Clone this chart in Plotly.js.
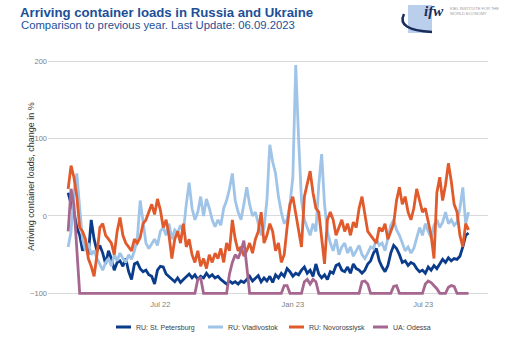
<!DOCTYPE html>
<html>
<head>
<meta charset="utf-8">
<script src="https://cdn.plot.ly/plotly-3.0.1.min.js"></script>
<style>html,body{margin:0;padding:0;background:#fff;}#chart{width:510px;height:340px;}</style>
</head>
<body>
<div id="chart"></div>
<script>
// Dates (every 4 days)
const dates = [
'2022-02-23','2022-02-27','2022-03-03','2022-03-07','2022-03-11','2022-03-15','2022-03-19','2022-03-23','2022-03-27','2022-03-31',
'2022-04-04','2022-04-08','2022-04-12','2022-04-16','2022-04-20','2022-04-24','2022-04-28','2022-05-02','2022-05-06','2022-05-10',
'2022-05-14','2022-05-18','2022-05-22','2022-05-26','2022-05-30','2022-06-03','2022-06-07','2022-06-11','2022-06-15','2022-06-19',
'2022-06-23','2022-06-27','2022-07-01','2022-07-05','2022-07-09','2022-07-13','2022-07-17','2022-07-21','2022-07-25','2022-07-29',
'2022-08-02','2022-08-06','2022-08-10','2022-08-14','2022-08-18','2022-08-22','2022-08-26','2022-08-30','2022-09-03','2022-09-07',
'2022-09-11','2022-09-15','2022-09-19','2022-09-23','2022-09-27','2022-10-01','2022-10-05','2022-10-09','2022-10-13','2022-10-17',
'2022-10-21','2022-10-25','2022-10-29','2022-11-02','2022-11-06','2022-11-10','2022-11-14','2022-11-18','2022-11-22','2022-11-26',
'2022-11-30','2022-12-04','2022-12-08','2022-12-12','2022-12-16','2022-12-20','2022-12-24','2022-12-28','2023-01-01','2023-01-05',
'2023-01-09','2023-01-13','2023-01-17','2023-01-21','2023-01-25','2023-01-29','2023-02-02','2023-02-06','2023-02-10','2023-02-14',
'2023-02-18','2023-02-22','2023-02-26','2023-03-02','2023-03-06','2023-03-10','2023-03-14','2023-03-18','2023-03-22','2023-03-26',
'2023-03-30','2023-04-03','2023-04-07','2023-04-11','2023-04-15','2023-04-19','2023-04-23','2023-04-27','2023-05-01','2023-05-05',
'2023-05-09','2023-05-13','2023-05-17','2023-05-21','2023-05-25','2023-05-29','2023-06-02','2023-06-06','2023-06-10','2023-06-14',
'2023-06-18','2023-06-22','2023-06-26','2023-06-30','2023-07-04','2023-07-08','2023-07-12','2023-07-16','2023-07-20','2023-07-24',
'2023-07-28','2023-08-01','2023-08-05','2023-08-09','2023-08-13','2023-08-17','2023-08-21','2023-08-25','2023-08-29','2023-09-02'
];

const stPetersburg = [
30,15,5,-15,-25,-45,-35,-50,-5,-30,
-45,-38,-48,-62,-45,-55,-70,-60,-58,-65,
-55,-72,-82,-62,-60,-68,-72,-70,-76,-78,
-88,-70,-65,-66,-75,-78,-82,-85,-80,-86,
-82,-78,-75,-80,-76,-82,-78,-80,-74,-79,
-76,-80,-78,-82,-85,-88,-84,-87,-85,-88,
-84,-86,-82,-78,-84,-80,-77,-85,-80,-84,
-78,-86,-76,-80,-74,-78,-68,-72,-78,-74,
-76,-70,-66,-74,-70,-78,-62,-75,-80,-76,
-82,-72,-74,-64,-62,-70,-72,-66,-74,-62,
-68,-70,-74,-70,-62,-58,-48,-42,-58,-66,
-72,-64,-48,-38,-42,-50,-60,-58,-64,-60,
-62,-68,-72,-70,-74,-66,-70,-64,-68,-62,
-56,-60,-54,-58,-55,-56,-52,-40,-25,-22
];

const vladivostok = [
-40,-20,30,55,10,-30,-45,-35,-50,-45,
-55,-62,-70,-60,-55,-65,-50,-58,-48,-55,
-60,-50,-56,-45,-30,20,-10,-35,-42,-35,
-30,-38,-20,-15,-25,-10,-30,-18,-22,-12,
-20,15,43,10,-5,5,25,0,22,10,
-5,-14,-5,-12,10,20,35,55,20,5,
-5,15,37,15,0,5,-10,-25,-15,20,
92,70,55,25,5,-10,-5,15,50,195,
100,20,-5,-15,-25,-10,-20,40,80,15,
-20,-35,-45,-30,-50,-40,-35,-48,-40,-52,
-45,-38,-50,-55,-48,-40,-42,-30,-38,-35,
-45,-28,-12,-5,-18,-25,-35,-45,-40,-48,
-42,-30,-15,-25,-10,-20,-28,-12,-5,-15,
-8,5,-10,-5,-12,-8,10,37,-10,5
];

const novorossiysk = [
35,65,50,25,-15,-20,-30,-55,-65,-78,
-50,-15,-10,-25,-30,-35,-50,-20,-2,-25,
-35,-40,-45,-30,-35,-28,-10,-5,5,15,
2,22,8,-15,-5,-25,-55,-30,-20,-35,
-10,-40,-30,-50,-60,-45,-65,-55,-68,-50,
-60,-48,-55,-42,-60,-35,-45,-5,-30,-45,
-40,-52,-45,-35,-48,-30,-20,5,-35,-25,
-10,-20,-45,-35,-60,-50,-15,15,25,5,
-20,-40,25,40,58,30,10,5,-30,-62,
-5,5,-5,-25,-15,-5,-20,-10,-25,-8,
-15,10,25,5,-20,-25,-30,-35,-15,-20,
-10,-30,-20,-10,20,37,15,25,5,-5,
10,35,20,5,10,-10,-25,-55,30,50,
20,40,68,45,15,5,-25,-40,-10,-18
];

const odessa = [
-20,35,15,-40,-100,-100,-100,-100,-100,-100,
-100,-100,-100,-100,-100,-100,-100,-100,-100,-100,
-100,-100,-100,-100,-100,-100,-100,-100,-100,-100,
-100,-100,-100,-100,-100,-100,-100,-100,-100,-100,
-100,-100,-100,-100,-100,-82,-80,-100,-100,-100,
-100,-100,-100,-100,-100,-100,-75,-60,-50,-55,
-45,-32,-65,-100,-100,-100,-100,-100,-100,-100,
-100,-100,-100,-100,-100,-90,-90,-100,-100,-100,
-100,-100,-85,-82,-88,-82,-85,-100,-100,-100,
-100,-100,-100,-100,-100,-100,-100,-100,-100,-100,
-100,-100,-85,-84,-88,-100,-100,-100,-100,-100,
-100,-100,-100,-91,-90,-100,-100,-100,-100,-100,
-100,-100,-100,-100,-88,-84,-86,-90,-94,-100,
-100,-100,-92,-90,-91,-100,-100,-100,-100,-100
];

const seriesNames = ['RU: St. Petersburg','RU: Vladivostok','RU: Novorossiysk','UA: Odessa'];
const seriesColors = ['#0b3c8c','#9fc4e8','#e05a2b','#a5678f'];
const seriesValues = [stPetersburg, vladivostok, novorossiysk, odessa];

const tickDates = ['2022-07-01','2023-01-01','2023-07-01'];
const tickLabels = ['Jul 22','Jan 23','Jul 23'];
const yTicks = [-100, 0, 100, 200];

const traces = seriesValues.map((vals, k) => ({
  type: 'scatter', mode: 'lines',
  x: dates, y: vals, name: seriesNames[k],
  line: {color: seriesColors[k], width: 2.8},
  hoverinfo: 'skip'
}));

// pixel -> paper helpers for decorations
const L = 48, R = 22, T = 55, B = 42, W = 510, H = 340;
const px = x => (x - L) / (W - L - R);
const py = y => (H - B - y) / (H - T - B);

// legend sample line starts in the reference (pixels)
const legendLineStarts = [115, 207, 288, 372];

const layout = {
  width: W, height: H,
  margin: {l: L, r: R, t: T, b: B, autoexpand: false},
  paper_bgcolor: '#ffffff', plot_bgcolor: '#ffffff',
  font: {family: 'Liberation Sans, Arial, sans-serif', color: '#404040', size: 8},
  title: {
    text: '<b>Arriving container loads in Russia and Ukraine</b>',
    font: {family: 'Liberation Sans, Arial, sans-serif', size: 13.2, color: '#1d4f97'},
    x: 20 / W, xref: 'container', xanchor: 'left',
    y: 1 - 12 / H, yref: 'container', yanchor: 'middle'
  },
  showlegend: true,
  legend: {
    orientation: 'h', xref: 'container', yref: 'container',
    x: 96 / W, xanchor: 'left', y: 1 - 327 / H, yanchor: 'middle',
    font: {size: 7, color: '#404040'}, itemwidth: 30, traceorder: 'normal',
    bgcolor: 'rgba(0,0,0,0)'
  },
  xaxis: {
    type: 'date', range: ['2022-01-26', '2023-09-29'],
    tickmode: 'array', tickvals: tickDates, ticktext: tickLabels,
    showgrid: false, zeroline: false, showline: false, ticks: '',
    tickfont: {size: 7.5, color: '#808080'}, fixedrange: true
  },
  yaxis: {
    range: [-106, 208], tickmode: 'array', tickvals: yTicks,
    showgrid: true, gridcolor: '#d9d9d9', gridwidth: 1,
    zeroline: false, showline: false, ticks: '',
    tickfont: {size: 7.5, color: '#808080'},
    title: {text: 'Arriving container loads, change in %', font: {size: 9, color: '#333333'}, standoff: 2},
    fixedrange: true
  },
  annotations: [
    {text: 'Comparison to previous year. Last Update: 06.09.2023', xref: 'paper', yref: 'paper',
     x: px(19), y: py(25), xanchor: 'left', yanchor: 'middle', showarrow: false,
     font: {family: 'Liberation Sans, Arial, sans-serif', size: 11.3, color: '#1d4f97'}},
    {text: '<b><i>ifw</i></b>', xref: 'paper', yref: 'paper', x: px(434), y: py(11),
     xanchor: 'center', yanchor: 'middle', showarrow: false,
     font: {family: 'Liberation Serif, serif', size: 15, color: '#1a2d5c'}},
    {text: 'KIEL INSTITUTE FOR THE<br>WORLD ECONOMY', xref: 'paper', yref: 'paper', x: px(448), y: py(11),
     xanchor: 'left', yanchor: 'middle', showarrow: false, align: 'left',
     font: {size: 4, color: '#9a9a9a'}}
  ],
  shapes: [
    {type: 'rect', xref: 'paper', yref: 'paper', x0: px(408), x1: px(432), y0: py(33), y1: py(5),
     fillcolor: '#b9cfec', line: {width: 0}, layer: 'below'},
    {type: 'path', xref: 'paper', yref: 'paper',
     path: 'M ' + px(404) + ',' + py(14) + ' Q ' + px(396) + ',' + py(30) + ' ' + px(432) + ',' + py(32),
     line: {color: '#1a2d5c', width: 2.5}}
  ]
};

Plotly.newPlot('chart', traces, layout, {displayModeBar: false, staticPlot: true}).then(gd => {
  // shorter legend strokes, as in the reference
  gd.querySelectorAll('.legend .legendlines path').forEach(p => p.setAttribute('d', 'M20,0h15'));
  // place legend entries at the reference spacing
  const items = gd.querySelectorAll('.legend .traces');
  const parse = t => { const m = /translate\(([-\d.]+)[ ,]+([-\d.]+)\)/.exec(t || ''); return m ? [+m[1], +m[2]] : [0, 0]; };
  if (items.length) {
    const [x0] = parse(items[0].getAttribute('transform'));
    items.forEach((it, k) => {
      const [, y] = parse(it.getAttribute('transform'));
      it.setAttribute('transform', 'translate(' + (x0 + legendLineStarts[k] - legendLineStarts[0]) + ',' + y + ')');
    });
  }
  // nudge the y-axis title toward the tick labels, as in the reference
  const yt = gd.querySelector('.g-ytitle');
  if (yt) yt.setAttribute('transform', 'translate(9,0)');
});
</script>
</body>
</html>
